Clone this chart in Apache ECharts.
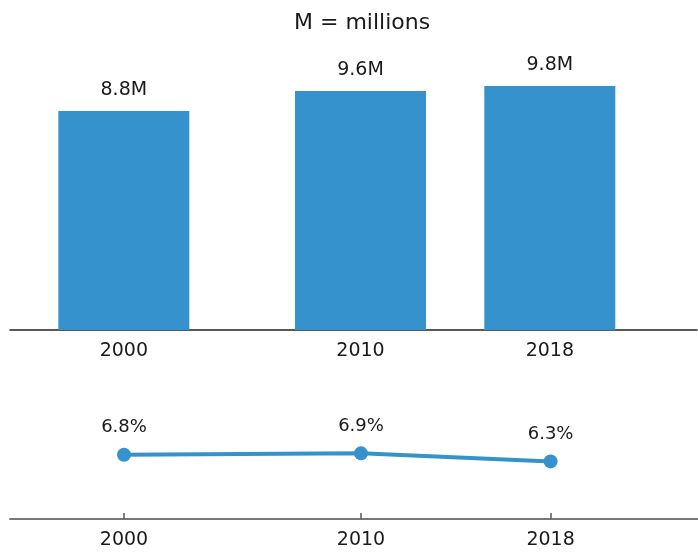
<!DOCTYPE html>
<html>
<head>
<meta charset="utf-8">
<script src="https://cdn.jsdelivr.net/npm/echarts@6/dist/echarts.min.js"></script>
<style>
  html, body { margin: 0; padding: 0; background: #fff; }
  #chart { width: 698px; height: 552px; }
</style>
</head>
<body>
<div id="chart"></div>
<script>
// Population (millions) and share (%) by year
const years = [2000, 2010, 2018];
const population = [8.8, 9.6, 9.8];
const share = [6.8, 6.9, 6.3];
const titleText = 'M = millions';

const blue = '#3592CC';
const textColor = '#1a1a1a';
const font = '"DejaVu Sans", "Noto Sans", sans-serif';

const chart = echarts.init(document.getElementById('chart'));

const xBase = {
  type: 'value',
  min: 1995.19,
  max: 2024.22,
  splitLine: { show: false },
  axisLabel: {
    customValues: years,
    color: textColor,
    fontSize: 19,
    fontFamily: font,
    margin: 12,
    formatter: v => String(v)
  }
};

chart.setOption({
  animation: false,
  title: {
    text: titleText,
    left: 289,
    top: 7,
    textStyle: { color: textColor, fontSize: 22, fontWeight: 'normal', fontFamily: font }
  },
  grid: [
    { left: 10, right: 1, top: 81, bottom: 222 },
    { left: 10, right: 0, top: 385, bottom: 33 }
  ],
  xAxis: [
    Object.assign({}, xBase, {
      gridIndex: 0,
      axisLine: { lineStyle: { color: '#222', width: 1.5 } },
      axisTick: { show: false }
    }),
    Object.assign({}, xBase, {
      gridIndex: 1,
      axisLine: { lineStyle: { color: '#777', width: 2 } },
      axisTick: { customValues: years, inside: true, length: 6, lineStyle: { color: '#555', width: 1.5 } }
    })
  ],
  yAxis: [
    { type: 'value', gridIndex: 0, min: 0, max: 10, show: false },
    { type: 'value', gridIndex: 1, min: 2, max: 12, show: false }
  ],
  series: [
    {
      type: 'bar',
      xAxisIndex: 0,
      yAxisIndex: 0,
      barWidth: 131,
      data: years.map((y, i) => [y, population[i]]),
      itemStyle: { color: blue },
      label: {
        show: true,
        position: 'top',
        distance: 11,
        color: textColor,
        fontSize: 19,
        fontFamily: font,
        formatter: p => p.value[1].toFixed(1) + 'M'
      }
    },
    {
      type: 'line',
      xAxisIndex: 1,
      yAxisIndex: 1,
      data: years.map((y, i) => [y, share[i]]),
      symbol: 'circle',
      symbolSize: 14,
      lineStyle: { color: blue, width: 4 },
      itemStyle: { color: blue },
      label: {
        show: true,
        position: 'top',
        distance: 11,
        color: textColor,
        fontSize: 18,
        fontFamily: font,
        formatter: p => p.value[1].toFixed(1) + '%'
      }
    }
  ]
});
</script>
</body>
</html>
